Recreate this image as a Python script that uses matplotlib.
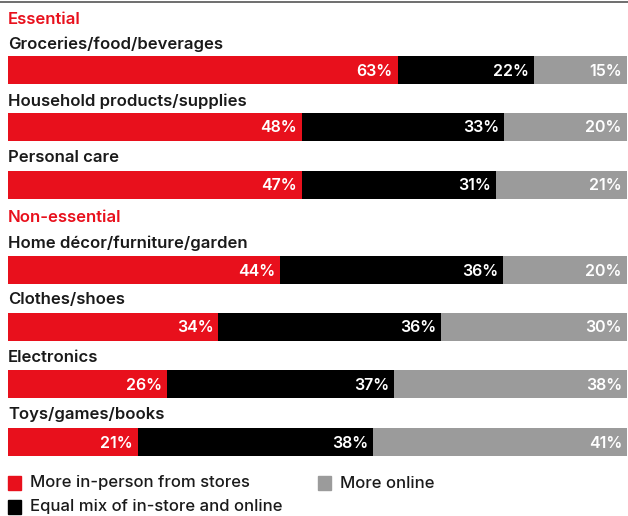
import numpy as np
import matplotlib.pyplot as plt
from matplotlib.patches import Rectangle

categories = ["Groceries/food/beverages", "Household products/supplies", "Personal care",
              "Home décor/furniture/garden", "Clothes/shoes", "Electronics", "Toys/games/books"]
in_store = [63, 48, 47, 44, 34, 26, 21]
mix = [22, 33, 31, 36, 36, 37, 38]
online = [15, 20, 21, 20, 30, 38, 41]
series_names = ["More in-person from stores", "Equal mix of in-store and online", "More online"]

RED = "#e8101c"
BLACK = "#000000"
GRAY = "#9b9b9b"
colors = [RED, BLACK, GRAY]

W, H = 628, 516
fig = plt.figure(figsize=(W / 100, H / 100), dpi=100)
ax = fig.add_axes([8 / W, 0, 619 / W, 1])
ax.set_xlim(0, 100)
ax.set_ylim(H, 0)
ax.axis("off")

px = 100 / 619  # data units per pixel in x
bar_y = [70, 127, 185, 270, 327, 384, 442]
label_y = [44, 101, 158, 243, 300, 357, 415]
bar_h = 28

FAM = ["Inter", "DejaVu Sans"]
lab_font = dict(family=FAM, fontsize=12, weight="semibold", color="#1a1a1a")
pct_font = dict(family=FAM, fontsize=11.5, weight="semibold", color="white")

for i, cat in enumerate(categories):
    total = in_store[i] + mix[i] + online[i]
    left = 0
    for vals, c in zip([in_store, mix, online], colors):
        v = vals[i]
        w = v * 100 / total  # rows are scaled to fill the full width
        ax.barh(bar_y[i], w, left=left, height=bar_h, color=c, edgecolor="none")
        ax.text(left + w - 5 * px, bar_y[i] + 1, f"{v}%", ha="right", va="center", **pct_font)
        left += w
    ax.text(0, label_y[i], cat, ha="left", va="center", **lab_font)

ax.text(0, 20, "Essential", ha="left", va="center", family=FAM,
        fontsize=12, weight="semibold", color=RED)
ax.text(0, 218, "Non-essential", ha="left", va="center", family=FAM,
        fontsize=12, weight="semibold", color=RED)

# top rule
fig.add_artist(plt.Line2D([0, 1], [1 - 1.5 / H, 1 - 1.5 / H], color="#555555", lw=1.2))

# legend
leg = [(8, 483, 0), (318, 483, 2), (8, 507, 1)]
for x0, yc, k in leg:
    fig.add_artist(Rectangle((x0 / W, 1 - (yc + 7) / H), 13 / W, 14 / H, color=colors[k],
                             transform=fig.transFigure))
    fig.text((x0 + 22) / W, 1 - yc / H, series_names[k], ha="left", va="center",
             family=FAM, fontsize=12, weight="medium", color="#1a1a1a")

fig.savefig("out.png", dpi=100)
